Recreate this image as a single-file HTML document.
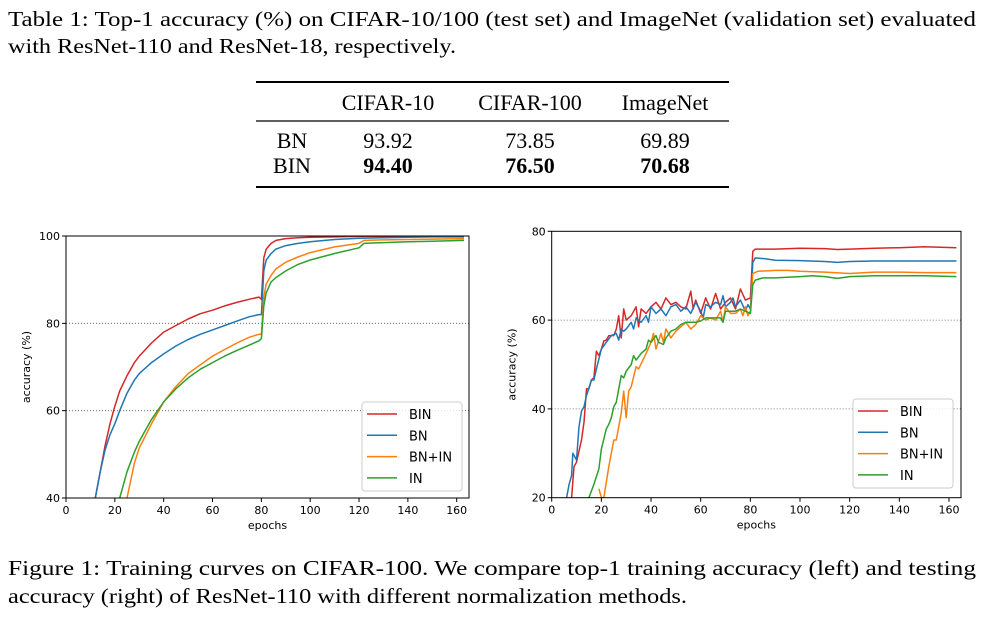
<!DOCTYPE html>
<html><head><meta charset="utf-8"><style>
html,body{margin:0;padding:0;background:#fff;}
svg{display:block;}
.cap{font-family:"Liberation Serif",serif;font-size:21px;fill:#000;}
.tb{font-family:"Liberation Serif",serif;font-size:22px;fill:#000;}
.ax{font-family:"DejaVu Sans","Liberation Sans",sans-serif;font-size:11px;fill:#000;}
.lg{font-family:"DejaVu Sans","Liberation Sans",sans-serif;font-size:13px;fill:#000;}
</style></head><body>
<svg id="root" width="987" height="623" viewBox="0 0 987 623">
<g>
<text class="cap" x="8" y="26" textLength="968" lengthAdjust="spacingAndGlyphs">Table 1: Top-1 accuracy (%) on CIFAR-10/100 (test set) and ImageNet (validation set) evaluated</text>
<text class="cap" x="8" y="53" textLength="448" lengthAdjust="spacingAndGlyphs">with ResNet-110 and ResNet-18, respectively.</text>
</g>
<g>
<line x1="256" x2="729" y1="82" y2="82" stroke="#000" stroke-width="2"/>
<line x1="256" x2="729" y1="121" y2="121" stroke="#000" stroke-width="1.2"/>
<line x1="256" x2="729" y1="187" y2="187" stroke="#000" stroke-width="2"/>
<text class="tb" x="388" y="110" text-anchor="middle">CIFAR-10</text>
<text class="tb" x="530" y="110" text-anchor="middle">CIFAR-100</text>
<text class="tb" x="665" y="110" text-anchor="middle">ImageNet</text>
<text class="tb" x="292" y="148" text-anchor="middle">BN</text>
<text class="tb" x="388" y="148" text-anchor="middle">93.92</text>
<text class="tb" x="530" y="148" text-anchor="middle">73.85</text>
<text class="tb" x="665" y="148" text-anchor="middle">69.89</text>
<text class="tb" x="292" y="173" text-anchor="middle">BIN</text>
<text class="tb" x="388" y="173" text-anchor="middle" font-weight="bold">94.40</text>
<text class="tb" x="530" y="173" text-anchor="middle" font-weight="bold">76.50</text>
<text class="tb" x="665" y="173" text-anchor="middle" font-weight="bold">70.68</text>
</g>
<g id="left"></g>
<g id="right"></g>
<g>
<text class="cap" x="8" y="575" textLength="968" lengthAdjust="spacingAndGlyphs">Figure 1: Training curves on CIFAR-100. We compare top-1 training accuracy (left) and testing</text>
<text class="cap" x="8" y="603" textLength="679" lengthAdjust="spacingAndGlyphs">accuracy (right) of ResNet-110 with different normalization methods.</text>
</g>
</svg>
<script>
const seriesNames = ["BIN","BN","BN+IN","IN"];
const colors = ["#d62728","#1f77b4","#ff7f0e","#2ca02c"];
const xTicks = [0,20,40,60,80,100,120,140,160];
const leftYTicks = [40,60,80,100];
const rightYTicks = [20,40,60,80];

const trainBinX = [12,14,16,18,20,22,25,28,30,35,40,45,50,55,60,65,70,75,79,80,81,82,84,86,90,95,100,110,120,130,140,150,163];
const trainBinY = [40,46,52,57,61,64.5,68,71,72.5,75.5,78,79.5,81,82.2,83,84,84.8,85.5,86,85.5,95,97,98.3,99,99.4,99.6,99.7,99.8,99.9,99.9,99.9,99.9,99.9];
const trainBnX = [12,14,16,18,20,22,25,28,30,35,40,45,50,55,60,65,70,75,79,80,81,82,84,86,90,95,100,110,120,130,140,150,163];
const trainBnY = [40,46,51,54.5,57,60,64,67,68.5,71,73,74.8,76.3,77.5,78.5,79.5,80.5,81.5,82,82,92,94.5,96,97,97.8,98.3,98.7,99.2,99.5,99.6,99.7,99.8,99.8];
const trainBnInX = [25,28,30,35,40,45,50,55,60,65,70,75,79,80,81,82,84,86,90,95,100,110,120,122,130,140,150,163];
const trainBnInY = [40,48,51.5,57,62,65.5,68.5,70.5,72.5,74,75.5,76.8,77.5,77.5,86,89,91,92.5,94,95.2,96.2,97.5,98.3,99,99.1,99.2,99.3,99.4];
const trainInX = [22,25,28,30,35,40,45,50,55,60,65,70,75,79,80,81,82,84,86,90,95,100,110,120,122,130,140,150,163];
const trainInY = [40,46,50.5,53,58,62,65,67.5,69.5,71,72.5,73.8,75,76,76.5,84,87,89.5,90.5,92,93.5,94.5,96,97.3,98.3,98.5,98.7,98.8,99.0];

const testBinX = [8,9,10,12,13,14,15,16,17,18,19,20,21,22,23,25,26,27,28,29,30,32,34,35,36,38,40,42,44,46,48,50,52,54,56,57,58,60,62,64,66,68,70,72,74,76,78,80,81,82,85,90,100,110,115,120,130,140,150,163];
const testBinY = [20,27,28,33,37,44.5,44.5,46.5,47,53,52,53.5,55.3,55.5,56.5,56.5,58,61,56,62.5,60,61,63,58.5,62.5,61.5,63,64,62.5,65,63.5,64,63,62.5,66.5,62.5,64.5,61.5,65,62.5,66,62.5,64,65,62.5,67,64.5,65,75.5,76,76,76,76.2,76.1,75.9,76,76.2,76.3,76.5,76.3];
const testBnX = [6,7,8,8.5,9.5,10,11,12,13,14,16,17,18,20,22,24,26,27,28,29,30,32,33,34,36,38,39,40,42,44,46,48,50,52,54,56,58,60,61,62,64,66,68,69,70,72,73,74,76,78,79,80,81,82,86,90,100,110,115,120,130,140,150,163];
const testBnY = [20,23,25,30,29,28.5,36,39.5,40.5,43,46.5,46.5,49,53.5,55,56.5,57,55.5,58,57.5,58,59.5,58,60.5,59.5,61,59.5,63,61.5,62.5,61,63,63.5,62,63,61.5,64,62,60.5,63.5,63,64,63.5,65.5,63,64,65,63,64.5,62,63.5,62.5,73,74,73.8,73.5,73.4,73.2,73,73.2,73.3,73.3,73.3,73.3];
const testBnInX = [19,20,21,23,25,26,28,29,30,31,32,34,35,38,40,41,42,44,45,46,48,50,52,54,56,58,60,62,64,66,68,69,70,72,74,76,77,78,79,80,81,83,90,95,100,110,120,130,140,150,163];
const testBnInY = [22,20,20,27,33,33,39,44,38,44,45,49.5,49,52.5,55,57,53.5,57,55,58,56,57.5,58.5,59.5,58,59,61,60,60.5,60,62,59.5,63,61.5,61.5,62.5,61,63,61,62,70.5,71,71.2,71.2,71,70.8,70.5,70.8,70.8,70.7,70.7];
const testInX = [15,17,19,20,22,23,24,25,26,28,29,30,32,33,34,36,38,39,40,42,43,45,46,48,50,52,54,56,58,60,62,64,66,68,69,70,72,74,76,78,80,81,82,85,90,100,105,110,115,120,130,140,150,163];
const testInY = [20,23,26.5,31,35.5,36.5,38,40.5,41.5,47.5,47,48.5,50,52,51,52.5,53.5,55.5,55,56.5,55,54.5,56,57.5,58,59,59.5,59.5,59.5,59.8,60.5,60.5,60.5,60.5,59.5,62,62,62,62.5,62,61.5,68,69,69.5,69.5,69.8,70,69.8,69.4,69.8,70,70,70,69.8];

const NS = "http://www.w3.org/2000/svg";
function mk(tag, attrs, parent){const e=document.createElementNS(NS,tag);for(const k in attrs)e.setAttribute(k,attrs[k]);parent.appendChild(e);return e;}

function drawChart(g, cfg, xs, ys){
  const sx = v => cfg.x0 + (v-0)*(cfg.x160-cfg.x0)/160;
  const sy = v => cfg.yBot + (v-cfg.ymin)*(cfg.yTop-cfg.yBot)/(cfg.ymax-cfg.ymin);
  const yt = cfg.yticks;
  // grid lines
  for(const t of yt){
    if(t===cfg.ymin||t===cfg.ymax) continue;
    const l = mk("line",{x1:cfg.left,x2:cfg.right,y1:sy(t),y2:sy(t),stroke:"#555","stroke-width":0.8,"stroke-dasharray":"1,2"},g);
    
    
  }
  // clip
  const cid = cfg.id+"clip";
  const defs = mk("defs",{},g);
  const cp = mk("clipPath",{id:cid},defs);
  mk("rect",{x:cfg.left,y:cfg.yTop,width:cfg.right-cfg.left,height:cfg.yBot-cfg.yTop},cp);
  const sg = mk("g",{"clip-path":"url(#"+cid+")"},g);
  for(let s=0;s<4;s++){
    let d="";
    for(let i=0;i<xs[s].length;i++) d += (i?"L":"M")+sx(xs[s][i]).toFixed(1)+","+sy(ys[s][i]).toFixed(1);
    const p = mk("path",{d:d,fill:"none",stroke:colors[s],"stroke-width":1.5,"stroke-linejoin":"round"},sg);
    
    
  }
  const fr = mk("rect",{x:cfg.left,y:cfg.yTop,width:cfg.right-cfg.left,height:cfg.yBot-cfg.yTop,fill:"none",stroke:"#000","stroke-width":1},g);
  
  
  for(const t of xTicks){
    mk("line",{x1:sx(t),x2:sx(t),y1:cfg.yBot,y2:cfg.yBot+4,stroke:"#000"},g);
    const tx = mk("text",{x:sx(t),y:cfg.yBot+16,"text-anchor":"middle",class:"ax"},g);
    tx.textContent=t;
    
    
  }
  for(const t of yt){
    mk("line",{x1:cfg.left-4,x2:cfg.left,y1:sy(t),y2:sy(t),stroke:"#000"},g);
    const tx = mk("text",{x:cfg.left-6,y:sy(t)+4,"text-anchor":"end",class:"ax"},g);
    tx.textContent=t;
    
    
  }
  const xl = mk("text",{x:(cfg.left+cfg.right)/2,y:cfg.yBot+31,"text-anchor":"middle",class:"ax"},g);
  xl.textContent="epochs";
  
  
  const yc=(cfg.yTop+cfg.yBot)/2;
  const yl = mk("text",{x:cfg.left-36,y:yc,"text-anchor":"middle",class:"ax",transform:"rotate(-90 "+(cfg.left-36)+" "+yc+")"},g);
  yl.textContent="accuracy (%)";
  
  
  const lg = mk("g",{},g);
  
  
  mk("rect",{x:cfg.lx,y:cfg.ly,width:100,height:89,rx:3,fill:"#fff","fill-opacity":0.8,stroke:"#ccc"},lg);
  for(let s=0;s<4;s++){
    const yy = cfg.ly+12+s*21.3;
    mk("line",{x1:cfg.lx+5,x2:cfg.lx+35,y1:yy,y2:yy,stroke:colors[s],"stroke-width":1.5},lg);
    const t = mk("text",{x:cfg.lx+47,y:yy+5,class:"lg"},lg);
    t.textContent=seriesNames[s];
    
    
  }
}
drawChart(document.getElementById("left"),
  {id:"L",x0:66,x160:456.7,left:66,right:469,yTop:236,yBot:498,ymin:40,ymax:100,yticks:leftYTicks,lx:362,ly:402},
  [trainBinX,trainBnX,trainBnInX,trainInX],[trainBinY,trainBnY,trainBnInY,trainInY]);
drawChart(document.getElementById("right"),
  {id:"R",x0:551.7,x160:949,left:551.7,right:961,yTop:231.3,yBot:497.7,ymin:20,ymax:80,yticks:rightYTicks,lx:853,ly:399},
  [testBinX,testBnX,testBnInX,testInX],[testBinY,testBnY,testBnInY,testInY]);
</script>
</body></html>
